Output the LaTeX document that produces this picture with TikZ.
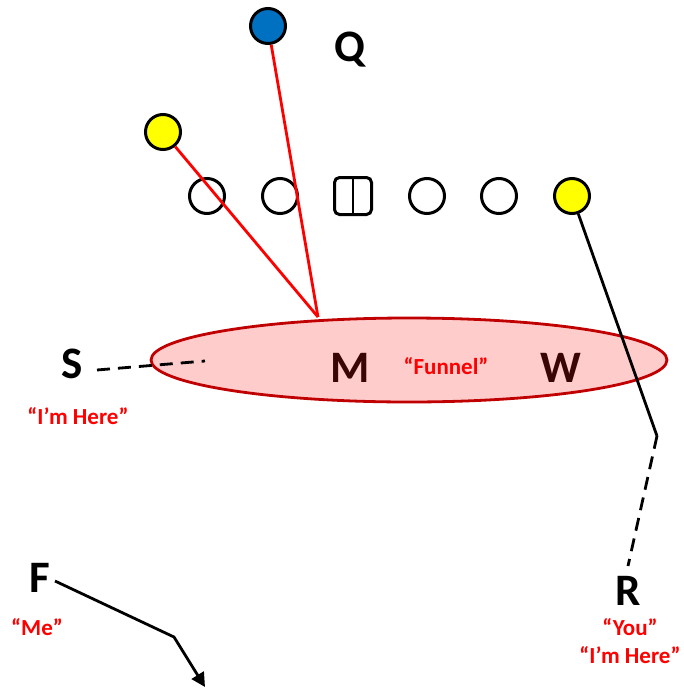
\documentclass[tikz,border=0pt]{standalone}
\usepackage{fontspec}
\setmainfont{Carlito}
\usetikzlibrary{arrows.meta,shapes.geometric}
\definecolor{qblue}{HTML}{0070C0}
\definecolor{pyellow}{HTML}{FFFF00}
\definecolor{funfill}{HTML}{FFCCCC}
\definecolor{fundraw}{HTML}{C00000}
\definecolor{maroon}{HTML}{3A0505}
\tikzset{
  player/.style={circle,draw=black,line width=3pt,minimum size=35pt,inner sep=0pt},
  center/.style={rounded corners=5pt,draw=black,line width=3pt,minimum size=37pt,inner sep=0pt},
  biglabel/.style={font=\bfseries\fontsize{45}{50}\selectfont,inner sep=0pt},
  redlabel/.style={font=\bfseries\fontsize{23}{26}\selectfont,text=red,inner sep=0pt},
  route/.style={line width=2.8pt,black},
  redroute/.style={line width=2.8pt,red},
  dashroute/.style={line width=2.8pt,black,dash pattern=on 13pt off 8pt}
}
\begin{document}
\begin{tikzpicture}[x=1pt,y=-1pt]
\useasboundingbox (0,0) rectangle (683,691);
% offensive players
\node[player,fill=qblue] (qb) at (268,26) {};
\node[player,fill=pyellow] (yl) at (163,132) {};
\node[player] (o1) at (207,196) {};
\node[player] (o2) at (280,196) {};
\node[center] (c) at (353,196) {};
\draw[line width=1.8pt] (c.north) -- (c.south);
\node[player] (o4) at (427,196) {};
\node[player] (o5) at (499,196) {};
\node[player,fill=pyellow] (yr) at (572,196) {};
% funnel
\node[ellipse,draw=fundraw,fill=funfill,line width=2.8pt,minimum width=516pt,minimum height=84pt] (fun) at (409,360) {};
% labels
\node[biglabel] (Q) at (350,50) {Q};
\node[biglabel] (S) at (72,364) {S};
\node[biglabel,text=maroon] (M) at (350,368) {M};
\node[biglabel,text=maroon] (W) at (561,368) {W};
\node[redlabel] (funnel) at (446,366) {“Funnel”};
\node[redlabel] (sh) at (78,416) {“I’m Here”};
\node[biglabel] (F) at (40,578) {F};
\node[redlabel] (me) at (37,627) {“Me”};
\node[biglabel] (R) at (628,591) {R};
\node[redlabel] (you) at (630,627) {“You”};
\node[redlabel] (rh) at (630,655) {“I’m Here”};
% routes
\coordinate (redend) at (318,317);
\draw[redroute] (qb) -- (redend);
\draw[redroute] (yl) -- (redend);
\coordinate (sdash) at (205,361);
\draw[dashroute] (97,370) -- (sdash);
\coordinate (rbreak) at (657,436);
\coordinate (rend) at (628,566);
\draw[route] (yr) -- (rbreak);
\draw[dashroute] (rbreak) -- (rend);
\coordinate (fbreak) at (174,637);
\coordinate (fend) at (205,687);
\draw[route,-{Triangle[length=14pt,width=14pt]}] (55,581) -- (fbreak) -- (fend);
\end{tikzpicture}
\end{document}
